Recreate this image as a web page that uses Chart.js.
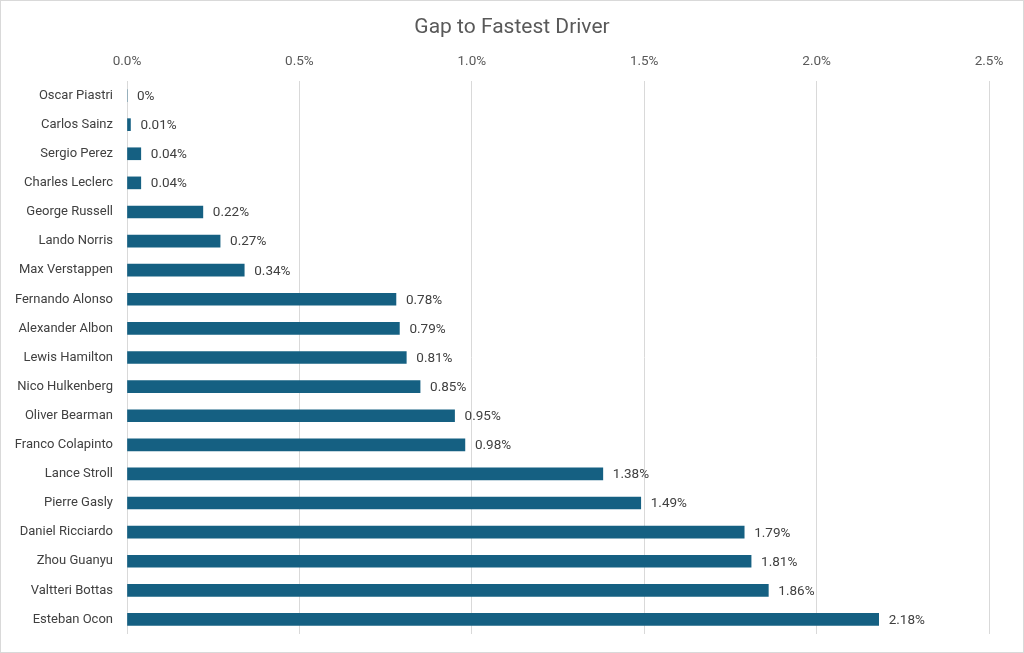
<!DOCTYPE html>
<html>
<head>
<meta charset="utf-8">
<script src="https://cdn.jsdelivr.net/npm/chart.js@4/dist/chart.umd.min.js"></script>
<style>
  html, body { margin: 0; padding: 0; background: #fff; }
  #wrap { width: 1024px; height: 653px; box-sizing: border-box; border: 1px solid #d9d9d9; position: relative; }
  #chart_gap { display: block; }
</style>
</head>
<body>
<div id="wrap"><canvas id="chart_gap" width="1022" height="651"></canvas></div>
<script>
var drivers = ["Oscar Piastri", "Carlos Sainz", "Sergio Perez", "Charles Leclerc", "George Russell",
    "Lando Norris", "Max Verstappen", "Fernando Alonso", "Alexander Albon", "Lewis Hamilton",
    "Nico Hulkenberg", "Oliver Bearman", "Franco Colapinto", "Lance Stroll", "Pierre Gasly",
    "Daniel Ricciardo", "Zhou Guanyu", "Valtteri Bottas", "Esteban Ocon"];
var gap_pct = [0, 0.01, 0.04, 0.04, 0.22, 0.27, 0.34, 0.78, 0.79, 0.81, 0.85, 0.95, 0.98,
    1.38, 1.49, 1.79, 1.81, 1.86, 2.18];
var axis_max = 2.5;
var axis_step = 0.5;
var chart_title = "Gap to Fastest Driver";

var fontName = "Roboto, 'Liberation Sans', sans-serif";

// labels at the end of each bar, plus the title centred on the whole canvas
var bar_labels = {
    id: 'bar_labels',
    afterDatasetsDraw: function (chart) {
        var ctx = chart.ctx;
        var meta = chart.getDatasetMeta(0);
        ctx.save();
        ctx.font = "13.5px " + fontName;
        ctx.fillStyle = "#404040";
        ctx.textBaseline = "middle";
        ctx.textAlign = "left";
        meta.data.forEach(function (bar, i) {
            var v = gap_pct[i];
            var txt = v === 0 ? "0%" : v.toFixed(2) + "%";
            ctx.fillText(txt, bar.x + 10, bar.y + 1);
        });

        ctx.font = "21px " + fontName;
        ctx.fillStyle = "#595959";
        ctx.textAlign = "center";
        ctx.fillText(chart_title, chart.width / 2, 27);
        ctx.restore();
    }
};

var options = {
    indexAxis: 'y',
    responsive: false,
    animation: false,
    layout: { padding: { left: 0, right: 34, top: 41.8, bottom: 18 } },
    plugins: {
        legend: { display: false },
        tooltip: { enabled: false },
        title: { display: false }
    },
    scales: {
        x: {
            position: 'top',
            min: 0,
            max: axis_max,
            ticks: {
                stepSize: axis_step,
                color: "#595959",
                font: { family: fontName, size: 13.5 },
                padding: 11,
                callback: function (v) { return v.toFixed(1) + "%"; }
            },
            grid: { color: "#d9d9d9", drawTicks: false },
            border: { display: false }
        },
        y: {
            ticks: {
                color: "#404040",
                font: { family: fontName, size: 13 },
                padding: 14
            },
            grid: { display: false, drawTicks: false },
            border: { display: false },
            afterFit: function (scale) {
                scale.width = 126;
                scale.paddingTop = 0;
                scale.paddingBottom = 0;
            }
        }
    }
};

var gap_chart = new Chart(document.getElementById("chart_gap"), {
    type: 'bar',
    data: {
        labels: drivers,
        datasets: [{
            data: gap_pct,
            backgroundColor: "#156082",
            barThickness: 12
        }]
    },
    options: options,
    plugins: [bar_labels]
});
</script>
</body>
</html>
